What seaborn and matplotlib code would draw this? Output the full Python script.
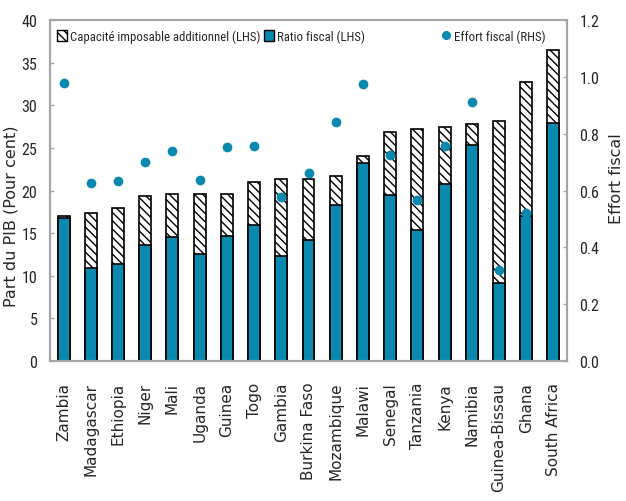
import numpy as np
import pandas as pd
import matplotlib
matplotlib.use("Agg")
import matplotlib.pyplot as plt
from matplotlib.patches import Patch
from matplotlib.lines import Line2D
from matplotlib.legend import Legend
from matplotlib.ticker import FixedLocator
from matplotlib import font_manager as fm
import seaborn as sns

countries = ["Zambia", "Madagascar", "Ethiopia", "Niger", "Mali", "Uganda", "Guinea",
             "Togo", "Gambia", "Burkina Faso", "Mozambique", "Malawi", "Senegal",
             "Tanzania", "Kenya", "Namibia", "Guinea-Bissau", "Ghana", "South Africa"]
ratio_fiscal = [16.75, 10.95, 11.4, 13.6, 14.5, 12.55, 14.7, 15.9, 12.3, 14.15, 18.3,
                23.2, 19.5, 15.35, 20.8, 25.3, 9.1, 17.0, 27.9]
capacite_totale = [17.0, 17.4, 18.0, 19.3, 19.6, 19.6, 19.6, 21.0, 21.35, 21.35, 21.75,
                   24.0, 26.9, 27.2, 27.4, 27.75, 28.2, 32.75, 36.5]
effort_fiscal = [0.979, 0.627, 0.633, 0.70, 0.74, 0.636, 0.754, 0.758, 0.578, 0.661, 0.84,
                 0.974, 0.724, 0.566, 0.758, 0.912, 0.32, 0.52, np.nan]
legend_labels = ["Capacité imposable additionnel (LHS)", "Ratio fiscal (LHS)",
                 "Effort fiscal (RHS)"]

blue = "#0A89AE"
grey = "#A6A6A6"

sns.set_style("white")
plt.rcParams["font.family"] = ["DejaVu Sans"]


def pick_narrow():
    best = None
    for f in fm.fontManager.ttflist:
        nm = (f.name + " " + f.fname).lower()
        if ("narrow" in nm or "condensed" in nm) \
                and "bold" not in nm and "italic" not in nm and "oblique" not in nm \
                and "mono" not in nm and "serif" not in f.name.lower():
            if "light" in nm or "black" in nm or "medium" in nm or "thin" in nm:
                continue
            best = f.fname
            if "liberation" in nm:
                break
    if best:
        return fm.FontProperties(fname=best)
    return fm.FontProperties(family="Roboto")


base_fp = pick_narrow()
tick_fp = base_fp.copy()
tick_fp.set_size(11.5)
leg_fp = base_fp.copy()
leg_fp.set_size(9.2)

df = pd.DataFrame({"country": countries, "ratio": ratio_fiscal,
                   "total": capacite_totale, "effort": effort_fiscal})

fig = plt.figure(figsize=(6.26, 5.02), dpi=100)
ax = fig.add_axes([50/626, 1-362/502, (567-50)/626, (362-21)/502])

plt.rcParams["hatch.color"] = "#404040"
plt.rcParams["hatch.linewidth"] = 1.0
sns.barplot(data=df, x="country", y="total", color="white", edgecolor="black",
            linewidth=1.2, width=0.44, hatch="\\\\\\\\", ax=ax, saturation=1)
sns.barplot(data=df, x="country", y="ratio", color=blue, edgecolor="black",
            linewidth=1.2, width=0.44, ax=ax, saturation=1)

ax2 = ax.twinx()
sns.stripplot(data=df, x="country", y="effort", jitter=False, color=blue, size=7,
              ax=ax2, zorder=5)

ax.set_ylim(0, 40)
ax.set_xlim(-0.5, len(countries) - 0.5)
ax.set_yticks(np.arange(0, 41, 5))
ax.set_xlabel("")
ax.set_ylabel("Part du PIB (Pour cent)", fontsize=11.5)
ax.yaxis.set_label_coords((19 - 50) / 517, (362 - 216) / 341)
ax.tick_params(axis="x", which="major", length=0, labelrotation=90, labelsize=11, pad=15)
ax.xaxis.set_minor_locator(FixedLocator(np.arange(0.5, len(countries) - 1, 1)))
ax.tick_params(axis="x", which="minor", direction="in", length=4, color=grey, width=1)
ax.tick_params(axis="y", direction="in", length=3, color=grey, width=1, pad=9)
for lab in ax.get_yticklabels():
    lab.set_fontproperties(tick_fp)

ax2.set_ylim(0, 1.2)
ax2.set_yticks(np.arange(0, 1.21, 0.2))
ax2.set_yticklabels([f"{v:.1f}" for v in np.arange(0, 1.21, 0.2)])
ax2.set_ylabel("Effort fiscal", fontsize=11.5)
ax2.yaxis.set_label_coords((609 - 50) / 517, (362 - 179) / 341)
ax2.tick_params(axis="y", direction="in", length=3, color=grey, width=1, pad=9)
ax2.tick_params(axis="x", which="both", length=0)
for lab in ax2.get_yticklabels():
    lab.set_fontproperties(tick_fp)
ax2.set_xlim(-0.5, len(countries) - 0.5)

for a in (ax, ax2):
    for s in a.spines.values():
        s.set_color(grey)
        s.set_linewidth(1.5)

handles = [Patch(facecolor="white", edgecolor="black", hatch="\\\\\\\\", linewidth=1),
           Patch(facecolor=blue, edgecolor="black", linewidth=1),
           Line2D([], [], marker="o", linestyle="none", color=blue, markersize=5.5)]
x_anchor_px = [57, 264, 441]
y_anchor = (362 - 37) / 341
for h, lab, xp in zip(handles, legend_labels, x_anchor_px):
    lg = Legend(ax2, [h], [lab], loc="center left",
                bbox_to_anchor=((xp - 50) / 517, y_anchor),
                frameon=False, borderpad=0, borderaxespad=0,
                handlelength=0.75, handleheight=0.9, handletextpad=0.3,
                prop=leg_fp)
    ax2.add_artist(lg)

fig.savefig("out.png", dpi=100)
